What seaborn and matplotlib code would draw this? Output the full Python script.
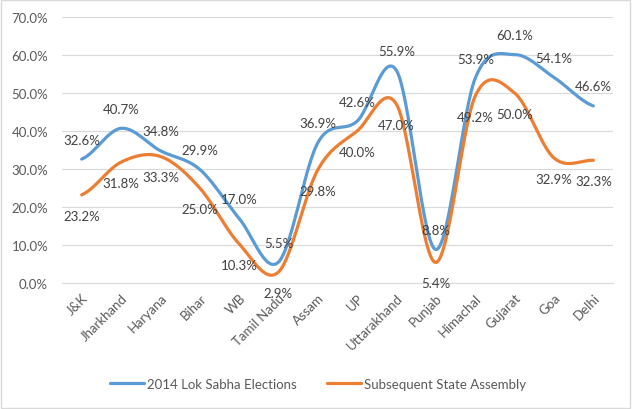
import matplotlib
matplotlib.use('Agg')
import matplotlib.pyplot as plt
from matplotlib.patches import Rectangle
from matplotlib.ticker import PercentFormatter
from matplotlib.transforms import ScaledTranslation
import seaborn as sns
import pandas as pd
import numpy as np

states = ['J&K', 'Jharkhand', 'Haryana', 'Bihar', 'WB', 'Tamil Nadu', 'Assam',
          'UP', 'Uttarakhand', 'Punjab', 'Himachal', 'Gujarat', 'Goa', 'Delhi']
lok_sabha = [32.6, 40.7, 34.8, 29.9, 17.0, 5.5, 36.9, 42.6, 55.9, 8.8, 53.9, 60.1, 54.1, 46.6]
assembly = [23.2, 31.8, 33.3, 25.0, 10.3, 2.9, 29.8, 40.0, 47.0, 5.4, 49.2, 50.0, 32.9, 32.3]
series_names = ['2014 Lok Sabha Elections', 'Subsequent State Assembly']
colors = ['#5B9BD5', '#ED7D31']


def smooth(vals, steps=30):
    # Excel style smoothed line: cubic bezier, catmull-rom control points
    p = np.asarray(vals, dtype=float) / 100
    n = len(p)
    xs, ys = [], []
    for i in range(n - 1):
        p0 = p[max(i - 1, 0)]
        p3 = p[min(i + 2, n - 1)]
        c1 = p[i] + (p[i + 1] - p0) / 6
        c2 = p[i + 1] - (p3 - p[i]) / 6
        t = np.linspace(0, 1, steps, endpoint=(i == n - 2))
        y = ((1 - t) ** 3 * p[i] + 3 * (1 - t) ** 2 * t * c1
             + 3 * (1 - t) * t ** 2 * c2 + t ** 3 * p[i + 1])
        xs.extend(i + t)
        ys.extend(y)
    return np.array(xs), np.array(ys)


frames = []
for name, vals in zip(series_names, [lok_sabha, assembly]):
    x, y = smooth(vals)
    frames.append(pd.DataFrame({'x': x, 'y': y, 'series': name}))
curve_df = pd.concat(frames, ignore_index=True)

sns.set_style('white')
plt.rcParams['font.family'] = ['Lato', 'DejaVu Sans']

fig = plt.figure(figsize=(6.32, 4.10), dpi=100)
ax = fig.add_axes([62 / 632, 1 - 284 / 410, (613 - 62) / 632, (284 - 18) / 410])

sns.lineplot(data=curve_df, x='x', y='y', hue='series', palette=colors,
             linewidth=2.3, sort=False, ax=ax)

ax.set_xlim(-0.5, len(states) - 0.5)
ax.set_ylim(0, 0.7)
ax.set_yticks(np.arange(0, 0.71, 0.1))
ax.yaxis.set_major_formatter(PercentFormatter(1.0, decimals=1))
ax.set_xticks(range(len(states)))
ax.set_xticklabels(states, rotation=45, ha='right', va='top', rotation_mode='anchor')
# nudge rotated labels a little left of their tick, like Excel does
shift = ScaledTranslation(-4 / 72, 0, fig.dpi_scale_trans)
for lbl in ax.get_xticklabels():
    lbl.set_transform(lbl.get_transform() + shift)
ax.tick_params(axis='x', length=0, pad=6, labelsize=9.5, colors='#595959')
ax.tick_params(axis='y', length=0, pad=10, labelsize=9.5, colors='#595959')
ax.set_xlabel('')
ax.set_ylabel('')
ax.grid(axis='y', color='#D9D9D9', linewidth=0.8)
ax.set_axisbelow(True)
for side in ['top', 'right', 'left']:
    ax.spines[side].set_visible(False)
ax.spines['bottom'].set_color('#D9D9D9')
ax.spines['bottom'].set_linewidth(0.8)

# data labels: blue above, orange below
for i, (a, b) in enumerate(zip(lok_sabha, assembly)):
    ax.annotate('{:.1f}%'.format(a), (i, a / 100), xytext=(0, 14), textcoords='offset points',
                ha='center', va='center', fontsize=9.5, color='#404040')
    ax.annotate('{:.1f}%'.format(b), (i, b / 100), xytext=(0, -15), textcoords='offset points',
                ha='center', va='center', fontsize=9.5, color='#404040')

handles, labels = ax.get_legend_handles_labels()
ax.legend(handles, labels, loc='center', bbox_to_anchor=(318 / 632, 25 / 410),
          bbox_transform=fig.transFigure, ncol=2, frameon=False, fontsize=9.5,
          labelcolor='#595959', handlelength=2.6, handletextpad=0.2, columnspacing=2.3)

fig.patches.append(Rectangle((0.002, 0.003), 0.995, 0.994, transform=fig.transFigure,
                             fill=False, edgecolor='#D9D9D9', linewidth=1))

fig.savefig('out.png', dpi=100)
